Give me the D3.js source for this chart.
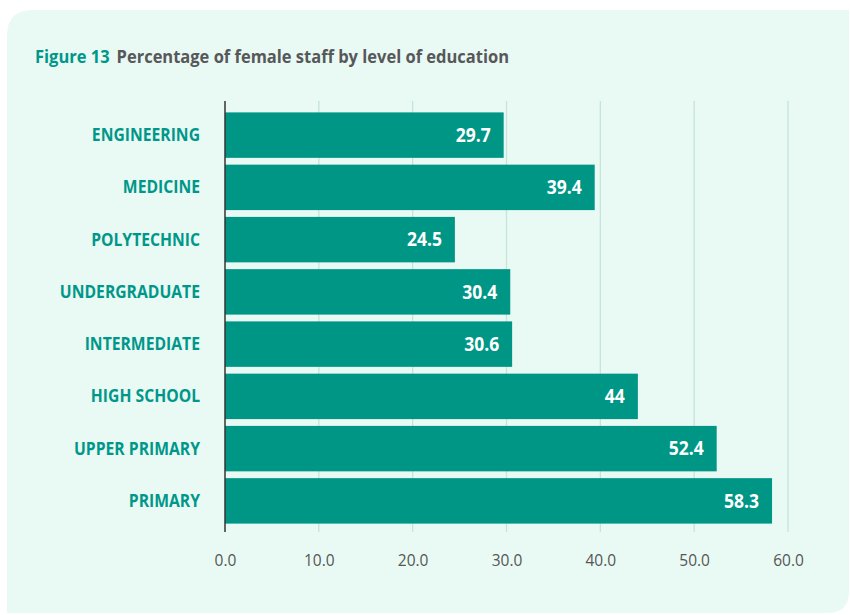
<!DOCTYPE html>
<html><head><meta charset="utf-8">
<script src="https://cdn.jsdelivr.net/npm/d3@7"></script>
<style>body{margin:0;background:#fff;}svg{display:block;}</style>
</head><body>
<script>
const categories = ["ENGINEERING","MEDICINE","POLYTECHNIC","UNDERGRADUATE","INTERMEDIATE","HIGH SCHOOL","UPPER PRIMARY","PRIMARY"];
const values = [29.7, 39.4, 24.5, 30.4, 30.6, 44, 52.4, 58.3];
const valueLabels = ["29.7","39.4","24.5","30.4","30.6","44","52.4","58.3"];
const tickValues = [0,10,20,30,40,50,60];
const tickLabels = ["0.0","10.0","20.0","30.0","40.0","50.0","60.0"];
const titlePrefix = "Figure 13";
const titleText = "Percentage of female staff by level of education";

(function () {
const W = 850, H = 615;
const svg = d3.select("body").append("svg").attr("width", W).attr("height", H);
const font = "'Open Sans', 'Noto Sans', sans-serif";
const ys = 1.1; // vertical stretch to mimic the taller typeface

// panel
svg.append("path")
  .attr("d", (() => {
    const x0 = 7, y0 = 10, x1 = 849, y1 = 613, r = 26, r2 = 22;
    return `M${x0},${y0 + r} Q${x0},${y0} ${x0 + r},${y0} L${x1},${y0} L${x1},${y1 - r2} Q${x1},${y1} ${x1 - r2},${y1} L${x0},${y1} Z`;
  })())
  .attr("fill", "#e9faf4");

// title
const title = svg.append("text").attr("transform", `translate(35,63) scale(1,${ys})`)
  .attr("font-family", font).attr("font-size", 16.5).attr("font-weight", 700);
title.append("tspan").attr("fill", "#00978a").text(titlePrefix);
title.append("tspan").attr("fill", "#57585a").attr("dx", 7).text(titleText);

const x = d3.scaleLinear().domain([0, 60]).range([225, 788]);
const y = d3.scaleBand().domain(categories).range([109, 527]).paddingInner(0.13).paddingOuter(0.065);
const yTop = 101, yBottom = 532;

// gridlines
svg.append("g").selectAll("line").data(tickValues.slice(1)).join("line")
  .attr("x1", d => x(d)).attr("x2", d => x(d)).attr("y1", yTop).attr("y2", yBottom)
  .attr("stroke", "#c3e5da").attr("stroke-width", 1.3);

// bars
svg.append("g").selectAll("rect").data(values).join("rect")
  .attr("x", x(0)).attr("y", (d, i) => y(categories[i]))
  .attr("width", d => x(d) - x(0)).attr("height", y.bandwidth())
  .attr("fill", "#009686");

// value labels
svg.append("g").selectAll("text").data(values).join("text")
  .attr("transform", (d, i) => `translate(${x(d) - 13},${y(categories[i]) + y.bandwidth() / 2}) scale(1,${ys})`)
  .attr("dy", "0.35em").attr("text-anchor", "end")
  .attr("font-family", font).attr("font-size", 17.5).attr("font-weight", 700)
  .attr("fill", "#ffffff").text((d, i) => valueLabels[i]);

// category labels
svg.append("g").selectAll("text").data(categories).join("text")
  .attr("transform", d => `translate(200,${y(d) + y.bandwidth() / 2}) scale(1,${ys})`)
  .attr("dy", "0.35em").attr("text-anchor", "end")
  .attr("font-family", font).attr("font-size", 15.7).attr("font-weight", 700)
  .attr("fill", "#00978a").text(d => d);

// axis line
svg.append("line").attr("x1", x(0)).attr("x2", x(0)).attr("y1", yTop).attr("y2", yBottom)
  .attr("stroke", "#333").attr("stroke-width", 1.5);

// x axis tick labels
const xAxis = d3.axisBottom(x).tickValues(tickValues).tickFormat((d, i) => tickLabels[i]).tickSize(0).tickPadding(0);
const gx = svg.append("g").attr("transform", `translate(0,${yBottom})`).call(xAxis);
gx.select(".domain").remove();
gx.selectAll("text").attr("y", 0).attr("dy", 0)
  .attr("transform", `translate(0,34) scale(1,${ys})`)
  .attr("font-family", font).attr("font-size", 15.5).attr("fill", "#555555");
})();
</script>
</body></html>
